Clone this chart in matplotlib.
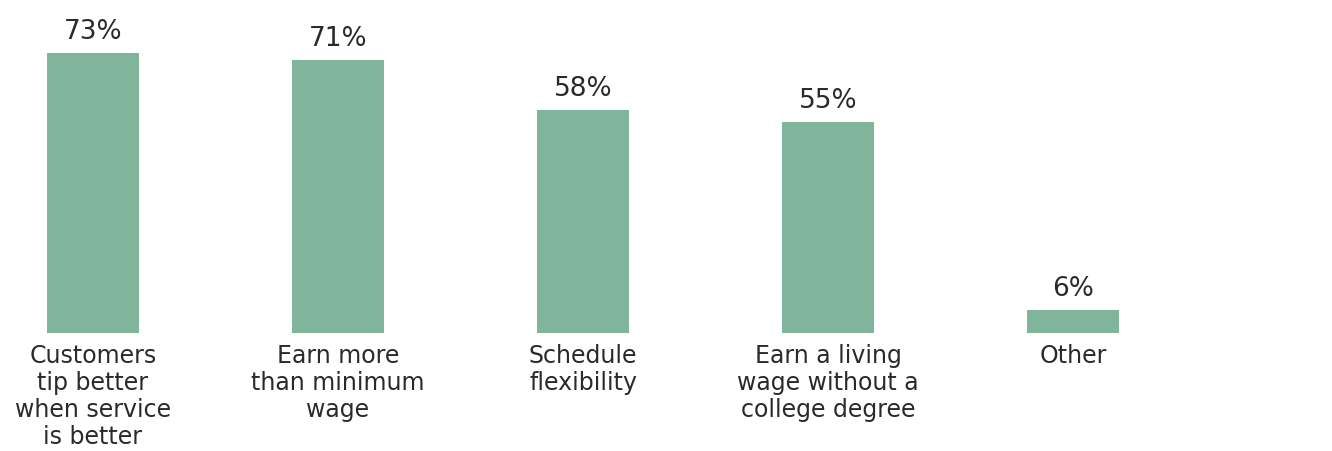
import matplotlib
matplotlib.use("Agg")
import matplotlib.pyplot as plt
import numpy as np

categories = ["Customers\ntip better\nwhen service\nis better",
              "Earn more\nthan minimum\nwage",
              "Schedule\nflexibility",
              "Earn a living\nwage without a\ncollege degree",
              "Other"]
values = [73, 71, 58, 55, 6]

plt.rcParams['font.family'] = ['DejaVu Sans']
bar_color = '#80b59c'
text_color = '#2a2a2a'

fig = plt.figure(figsize=(13.32, 4.51), dpi=100)
ax = fig.add_axes([0, 0, 1, 1])

x = np.arange(len(values))
# pixel layout: bar centres 245 px apart, first at 93 px; baseline 118 px from bottom
ax.bar(x, values, width=0.3755, color=bar_color, edgecolor='none')
ax.set_xlim(-93 / 245, -93 / 245 + 1332 / 245)
ymin = -118 / 3.84
ax.set_ylim(ymin, ymin + 451 / 3.84)
ax.axis('off')

for xi, v, lab in zip(x, values, categories):
    ax.annotate(f"{v}%", (xi, v), xytext=(0, 8), textcoords='offset pixels',
                ha='center', va='bottom', fontsize=19, color=text_color)
    ax.annotate(lab, (xi, 0), xytext=(0, -11), textcoords='offset pixels',
                ha='center', va='top', fontsize=17, color=text_color,
                linespacing=1.15)

fig.savefig("out.png", dpi=100, facecolor='white')
